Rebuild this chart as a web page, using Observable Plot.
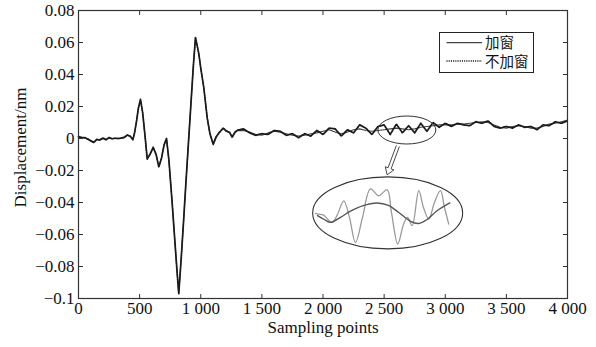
<!DOCTYPE html>
<html><head><meta charset="utf-8">
<script src="https://cdn.jsdelivr.net/npm/d3@7"></script>
<script src="https://cdn.jsdelivr.net/npm/@observablehq/plot@0.6"></script>
<style>
body{margin:0;background:#fff}
#chart{position:relative;width:596px;height:347px}
</style>
</head><body><div id="chart"></div>
<script>
// ---- data ----
const samples = [0,25,50,75,100,125,150,175,200,225,250,275,300,325,350,375,400,425,445,460,475,490,507,525,545,562,585,611,635,657,680,700,720,740,766,790,805,820,840,860,880,900,920,940,957,984,1000,1025,1053,1075,1102,1125,1150,1184,1210,1235,1257,1280,1300,
  1350,1400,1450,1500,1550,1600,1650,1700,1750,1800,1850,1900,1950,2000,2050,2100,2150,2200,2250,2300,2350,2400,2450,2500,2550,2600,2650,2700,2750,2800,2850,2900,2950,3000,3050,3100,3150,3200,3250,3300,3350,3400,3450,3500,3550,3600,3650,3700,3750,3800,3850,3900,3950,4000];
const windowed = [0.001,0.0008,0.0003,0,-0.0012,-0.002,-0.0008,-0.0005,0,-0.0005,0.0003,0,0,0,0,0.0005,0.002,0.0015,-0.0005,0.004,0.011,0.019,0.024,0.016,0.001,-0.0128,-0.010,-0.0057,-0.010,-0.0177,-0.012,-0.004,-0.0002,-0.014,-0.040,-0.066,-0.082,-0.097,-0.075,-0.051,-0.026,-0.002,0.022,0.046,0.063,0.053,0.044,0.0317,0.0128,0.003,-0.004,0.0005,0.004,0.0061,0.005,0.0035,0.0013,0.0035,0.0049,
  0.005,0.004,0.0025,0.002,0.0035,0.0045,0.004,0.003,0.002,0.0015,0.002,0.003,0.0035,0.0045,0.0055,0.004,0.003,0.004,0.0055,0.006,0.005,0.0045,0.005,0.0055,0.006,0.0065,0.006,0.0055,0.006,0.007,0.0075,0.008,0.0085,0.0085,0.0085,0.009,0.009,0.0095,0.010,0.0105,0.010,0.0085,0.007,0.0065,0.0075,0.008,0.0075,0.0065,0.0065,0.0075,0.009,0.0095,0.0105,0.0115];
const unwindowed = [0.0012,0.0005,0.0006,-0.0004,-0.0015,-0.0025,-0.0005,-0.001,0.0003,-0.0008,0.0006,-0.0002,0.0002,0,0.0003,0.0008,0.0022,0.0012,-0.0008,0.004,0.011,0.019,0.0245,0.016,0.001,-0.0128,-0.0098,-0.0055,-0.010,-0.0178,-0.012,-0.004,0,-0.014,-0.040,-0.066,-0.082,-0.097,-0.075,-0.051,-0.026,-0.002,0.022,0.046,0.0632,0.053,0.044,0.0317,0.0128,0.003,-0.0035,0.001,0.0035,0.0065,0.0045,0.004,0.0008,0.004,0.0052,
  0.006,0.0035,0.002,0.003,0.0025,0.005,0.0045,0.002,0.003,0.0005,0.003,0.0015,0.005,0.0025,0.0065,0.006,0.0015,0.0055,0.0035,0.0085,0.0065,0.0025,0.0075,0.0085,0.0025,0.009,0.0035,0.008,0.0035,0.0095,0.0045,0.0100,0.007,0.0095,0.0075,0.0095,0.0085,0.008,0.0105,0.0095,0.011,0.0075,0.0065,0.0075,0.0065,0.0085,0.007,0.0075,0.0055,0.0085,0.008,0.0105,0.0095,0.011];
// magnified view (arbitrary units)
const insetSmoothT = [2.9,7.5,11.5,18.2,24.9,32.9,42.7,50.2,56.9,64.9,70.2,76,82.2,91.1];
const insetSmoothV = [-0.06,-0.17,-0.25,-0.11,0.06,0.21,0.29,0.22,0.03,-0.22,-0.28,-0.17,0.06,0.29];
const insetRawT = [1.5,3.7,6.9,12.7,16.2,20.4,24.2,28.2,32.9,38.2,43.7,49.3,52.2,56.4,60.2,62.9,66,70.4,73.5,77.1,80.9,84.9,87.5,90.4];
const insetRawV = [0,-0.02,-0.05,-0.25,-0.03,0.35,-0.11,-0.81,-0.11,0.68,0.49,0.66,0.03,-0.85,-0.31,-0.11,-0.34,0.63,0.17,-0.16,0.31,0.63,0.17,-0.3];
const seriesNames = ["加窗","不加窗"];
const xTicks = [0,500,1000,1500,2000,2500,3000,3500,4000];
const yTicks = [-0.1,-0.08,-0.06,-0.04,-0.02,0,0.02,0.04,0.06,0.08];
const xLabel = "Sampling points";
const yLabel = "Displacement/nm";

// ---- build ----
const rowsW = samples.map((s,i)=>({s, v: windowed[i]}));
const rowsU = samples.map((s,i)=>({s, v: unwindowed[i]}));
const fmtX = d => d >= 1000 ? `${Math.floor(d/1000)} ${String(d%1000).padStart(3,"0")}` : String(d);
const fmtY = d => d === 0 ? "0" : (d < 0 ? "\u2212" : "") + String(+Math.abs(d).toFixed(2));
const serif = "'Liberation Serif','Times New Roman',serif";
const ink = "#333";
const blank = () => "";

const plot = Plot.plot({
  width: 596, height: 347,
  marginLeft: 78, marginRight: 29, marginTop: 10, marginBottom: 49,
  style: {fontFamily: serif, fontSize: "17px", background: "transparent", color: "#111"},
  x: {domain: [0, 4000]},
  y: {domain: [-0.1, 0.08]},
  marks: [
    Plot.line(rowsW, {x: "s", y: "v", stroke: "#444", strokeWidth: 1.1}),
    Plot.line(rowsU, {x: "s", y: "v", stroke: "#1a1a1a", strokeWidth: 1.8, strokeDasharray: "1.1,1.1"}),
    Plot.frame({stroke: ink, strokeWidth: 1.2}),
    Plot.axisX({anchor: "bottom", ticks: xTicks, tickSize: 0, tickPadding: 3, tickFormat: fmtX, label: null}),
    Plot.axisX({anchor: "bottom", ticks: xTicks, tickSize: -4, tickFormat: blank, label: null, stroke: ink}),
    Plot.axisX({anchor: "top", ticks: xTicks, tickSize: -4, tickFormat: blank, label: null, stroke: ink}),
    Plot.axisY({anchor: "left", ticks: yTicks, tickSize: 0, tickPadding: 4, tickFormat: fmtY, label: null}),
    Plot.axisY({anchor: "left", ticks: yTicks, tickSize: -5, tickFormat: blank, label: null, stroke: ink}),
    Plot.axisY({anchor: "right", ticks: yTicks, tickSize: -5, tickFormat: blank, label: null, stroke: ink}),
    Plot.text([xLabel], {frameAnchor: "bottom", dy: 34, fill: "#111"}),
    Plot.text([yLabel], {frameAnchor: "left", dx: -58, dy: -7, rotate: -90, textAnchor: "middle", fill: "#111"})
  ]
});
document.getElementById("chart").appendChild(plot);

const X = plot.scale("x"), Y = plot.scale("y");
const svg = d3.select(plot);

// small ellipse around the noisy region
const sc = [X.apply(2690), Y.apply(0.005)];
svg.append("ellipse").attr("cx", sc[0]).attr("cy", sc[1]).attr("rx", 29).attr("ry", 14)
  .attr("fill", "none").attr("stroke", ink).attr("stroke-width", 1);
// big ellipse holding the magnified view
const bc = [X.apply(2533), Y.apply(-0.0468)];
const brx = 75, bry = 36;
svg.append("ellipse").attr("cx", bc[0]).attr("cy", bc[1]).attr("rx", brx).attr("ry", bry)
  .attr("fill", "white").attr("stroke", ink).attr("stroke-width", 1.1);

// hollow arrow
const a0 = [sc[0] - 9, sc[1] + 16], a1 = [bc[0] - 0.5, bc[1] - bry - 2];
const L = Math.hypot(a1[0]-a0[0], a1[1]-a0[1]);
const u = [(a1[0]-a0[0])/L, (a1[1]-a0[1])/L], n = [-u[1], u[0]];
const hb = [a1[0] - u[0]*7, a1[1] - u[1]*7];
const P = (p, k) => [p[0] + n[0]*k, p[1] + n[1]*k];
const pts = [P(a0,1.6), P(hb,1.6), P(hb,4.6), a1, P(hb,-4.6), P(hb,-1.6), P(a0,-1.6)];
svg.append("path").attr("d", "M" + pts.map(p => p.join(",")).join("L"))
  .attr("fill", "white").attr("stroke", ink).attr("stroke-width", 0.9).attr("stroke-linejoin", "miter");

// magnified view drawn by a second Plot, moved into the ellipse
const inset = Plot.plot({
  width: 2*brx, height: 2*bry, margin: 0,
  style: {background: "transparent"},
  x: {domain: [0, 100], axis: null},
  y: {domain: [-1, 1], axis: null},
  marks: [
    Plot.line(insetRawT.map((t,i)=>({t, v: insetRawV[i]})), {x: "t", y: "v", stroke: "#9a9a9a", strokeWidth: 1.3, curve: "catmull-rom"}),
    Plot.line(insetSmoothT.map((t,i)=>({t, v: insetSmoothV[i]})), {x: "t", y: "v", stroke: "#555", strokeWidth: 1.4, curve: "catmull-rom"})
  ]
});
const ig = svg.append("g").attr("transform", `translate(${bc[0] - brx},${bc[1] - bry})`).node();
while (inset.firstChild) ig.appendChild(inset.firstChild);

// legend box
const lg = svg.append("g");
lg.append("rect").attr("x", 439.5).attr("y", 32.5).attr("width", 94).attr("height", 40)
  .attr("fill", "white").attr("stroke", "#222").attr("stroke-width", 1);
lg.append("line").attr("x1", 446.5).attr("x2", 482).attr("y1", 42.7).attr("y2", 42.7)
  .attr("stroke", "#444").attr("stroke-width", 1.3);
lg.append("line").attr("x1", 446.5).attr("x2", 482).attr("y1", 61).attr("y2", 61)
  .attr("stroke", "#1a1a1a").attr("stroke-width", 1.7).attr("stroke-dasharray", "1.1,1.1");
seriesNames.forEach((name, i) => {
  lg.append("text").attr("x", 485).attr("y", i ? 61.5 : 42.5).attr("dy", "0.36em")
    .attr("text-anchor", "start")
    .attr("font-family", "'Noto Sans CJK SC', sans-serif").attr("font-size", 14.5).attr("fill", "#111")
    .text(name);
});
</script>
</body></html>
